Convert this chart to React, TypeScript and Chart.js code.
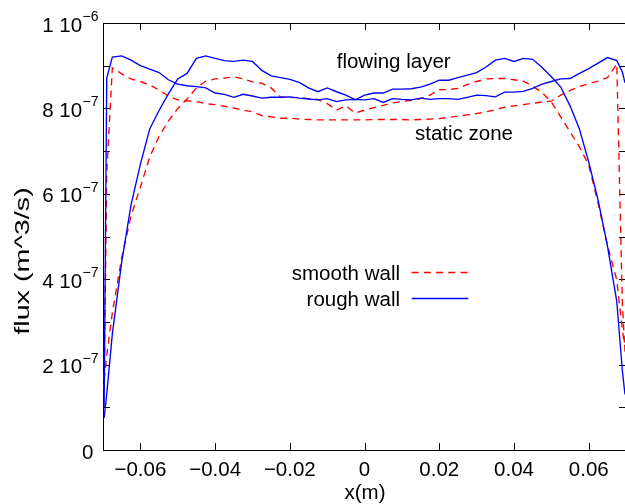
import React, { useEffect, useRef } from 'react';
import { Chart, registerables } from 'chart.js';

Chart.register(...registerables);

// x positions (m)
const xPositions = [
  -0.0697, -0.069, -0.0675, -0.065, -0.0625, -0.06, -0.0575, -0.055, -0.0525, -0.05,
  -0.0475, -0.045, -0.0425, -0.04, -0.0375, -0.035, -0.0325, -0.03, -0.0275, -0.025,
  -0.0225, -0.02, -0.0175, -0.015, -0.0125, -0.01, -0.0075, -0.005, -0.0025, 0,
  0.0025, 0.005, 0.0075, 0.01, 0.0125, 0.015, 0.0175, 0.02, 0.0225, 0.025,
  0.0275, 0.03, 0.0325, 0.035, 0.0375, 0.04, 0.0425, 0.045, 0.0475, 0.05,
  0.0525, 0.055, 0.0575, 0.06, 0.0625, 0.065, 0.0675, 0.069, 0.0697,
];

// rough wall, curve peaked near the walls
const roughWallA = [
  1.0e-7, 8.71e-7, 9.20e-7, 9.23e-7, 9.13e-7, 9.00e-7, 8.92e-7, 8.84e-7, 8.67e-7, 8.57e-7,
  8.53e-7, 8.51e-7, 8.48e-7, 8.36e-7, 8.33e-7, 8.26e-7, 8.33e-7, 8.29e-7, 8.24e-7, 8.26e-7,
  8.26e-7, 8.27e-7, 8.24e-7, 8.22e-7, 8.20e-7, 8.23e-7, 8.16e-7, 8.20e-7, 8.21e-7, 8.20e-7,
  8.23e-7, 8.14e-7, 8.23e-7, 8.21e-7, 8.20e-7, 8.24e-7, 8.21e-7, 8.23e-7, 8.23e-7, 8.21e-7,
  8.26e-7, 8.31e-7, 8.30e-7, 8.27e-7, 8.38e-7, 8.38e-7, 8.40e-7, 8.47e-7, 8.57e-7, 8.63e-7,
  8.69e-7, 8.70e-7, 8.82e-7, 8.93e-7, 9.06e-7, 9.19e-7, 9.12e-7, 8.85e-7, 8.6e-7,
];

// rough wall, curve rising from the walls
const roughWallB = [
  0.75e-7, 1.31e-7, 2.72e-7, 4.40e-7, 5.74e-7, 6.69e-7, 7.52e-7, 7.95e-7, 8.34e-7, 8.69e-7,
  8.82e-7, 9.17e-7, 9.23e-7, 9.17e-7, 9.12e-7, 9.10e-7, 9.13e-7, 9.10e-7, 8.89e-7, 8.76e-7,
  8.72e-7, 8.68e-7, 8.61e-7, 8.48e-7, 8.39e-7, 8.48e-7, 8.39e-7, 8.31e-7, 8.20e-7, 8.31e-7,
  8.36e-7, 8.36e-7, 8.45e-7, 8.45e-7, 8.46e-7, 8.50e-7, 8.57e-7, 8.66e-7, 8.66e-7, 8.72e-7,
  8.78e-7, 8.84e-7, 8.97e-7, 9.13e-7, 9.17e-7, 9.10e-7, 9.17e-7, 9.15e-7, 8.96e-7, 8.74e-7,
  8.50e-7, 8.06e-7, 7.52e-7, 6.74e-7, 5.85e-7, 4.78e-7, 3.48e-7, 1.85e-7, 1.3e-7,
];

// smooth wall, curve peaked near the walls
const smoothWallA = [
  1.4e-7, 6.5e-7, 8.95e-7, 8.81e-7, 8.69e-7, 8.63e-7, 8.55e-7, 8.43e-7, 8.29e-7, 8.20e-7,
  8.18e-7, 8.16e-7, 8.11e-7, 8.09e-7, 8.05e-7, 8.01e-7, 7.96e-7, 7.92e-7, 7.83e-7, 7.80e-7,
  7.77e-7, 7.77e-7, 7.75e-7, 7.74e-7, 7.73e-7, 7.73e-7, 7.73e-7, 7.73e-7, 7.73e-7, 7.73e-7,
  7.74e-7, 7.74e-7, 7.74e-7, 7.74e-7, 7.73e-7, 7.74e-7, 7.75e-7, 7.76e-7, 7.79e-7, 7.82e-7,
  7.85e-7, 7.88e-7, 7.92e-7, 7.97e-7, 8.03e-7, 8.06e-7, 8.09e-7, 8.12e-7, 8.15e-7, 8.17e-7,
  8.31e-7, 8.42e-7, 8.51e-7, 8.58e-7, 8.64e-7, 8.72e-7, 9.04e-7, 3.4e-7, 2.3e-7,
];

// smooth wall, curve rising from the walls
const smoothWallB = [
  1.64e-7, 2.22e-7, 3.21e-7, 4.50e-7, 5.48e-7, 6.16e-7, 6.86e-7, 7.35e-7, 7.70e-7, 8.00e-7,
  8.22e-7, 8.48e-7, 8.64e-7, 8.69e-7, 8.71e-7, 8.74e-7, 8.69e-7, 8.62e-7, 8.59e-7, 8.48e-7,
  8.27e-7, 8.25e-7, 8.26e-7, 8.23e-7, 8.21e-7, 8.11e-7, 7.96e-7, 8.06e-7, 7.89e-7, 7.96e-7,
  8.02e-7, 8.07e-7, 8.13e-7, 8.16e-7, 8.19e-7, 8.23e-7, 8.31e-7, 8.44e-7, 8.44e-7, 8.47e-7,
  8.56e-7, 8.63e-7, 8.69e-7, 8.70e-7, 8.70e-7, 8.67e-7, 8.64e-7, 8.52e-7, 8.37e-7, 8.15e-7,
  7.80e-7, 7.45e-7, 7.10e-7, 6.67e-7, 5.78e-7, 4.80e-7, 3.98e-7, 2.81e-7, 2.39e-7,
];

const xTickValues = [-0.06, -0.04, -0.02, 0, 0.02, 0.04, 0.06];
const xTickLabels = ['\u22120.06', '\u22120.04', '\u22120.02', '0', '0.02', '0.04', '0.06'];
const yTickValues = [0, 2e-7, 4e-7, 6e-7, 8e-7, 1e-6];
const yTickMantissas = ['0', '2 10', '4 10', '6 10', '8 10', '1 10'];
const yTickExponents = ['', '\u22127', '\u22127', '\u22127', '\u22127', '\u22126'];
const yMinorValues = [1e-7, 2e-7, 3e-7, 4e-7, 5e-7, 6e-7, 7e-7, 8e-7, 9e-7];

const legendLabels = ['smooth wall', 'rough wall'];
const xTitle = 'x(m)';
const yTitle = 'flux (m^3/s)';
const noteFlowing = 'flowing layer';
const noteStatic = 'static zone';

const FONT = '"Liberation Sans", Arial, sans-serif';
const RED = 'rgb(255,0,0)';
const BLUE = 'rgb(0,0,255)';
const LINE_W = 1.35;

const toPoints = (ys: number[]) => xPositions.map((x, i) => ({ x, y: ys[i] }));

const framePlugin = {
  id: 'frame',
  beforeDatasetsDraw(chart: any) {
    const { ctx, chartArea: a, scales } = chart;
    const sx = scales.x;
    const sy = scales.y;
    ctx.save();
    ctx.strokeStyle = '#000';
    ctx.lineWidth = 1;
    ctx.beginPath();
    ctx.moveTo(a.left + 0.5, a.top + 0.5);
    ctx.lineTo(a.left + 0.5, a.bottom + 0.5);
    ctx.lineTo(a.right + 2, a.bottom + 0.5);
    ctx.moveTo(a.left + 0.5, a.top + 0.5);
    ctx.lineTo(a.right + 2, a.top + 0.5);
    ctx.stroke();
    ctx.beginPath();
    const all = [0, ...yMinorValues, 1e-6];
    all.forEach((v) => {
      const y = Math.round(sy.getPixelForValue(v)) + 0.5;
      ctx.moveTo(a.left, y);
      ctx.lineTo(a.left + 7, y);
      ctx.moveTo(a.right + 1, y);
      ctx.lineTo(a.right - 6, y);
    });
    xTickValues.forEach((v) => {
      const x = Math.round(sx.getPixelForValue(v)) + 0.5;
      ctx.moveTo(x, a.bottom);
      ctx.lineTo(x, a.bottom - 7);
      ctx.moveTo(x, a.top);
      ctx.lineTo(x, a.top + 7);
    });
    ctx.stroke();
    ctx.restore();
  },
  afterDraw(chart: any) {
    const { ctx, scales } = chart;
    const sx = scales.x;
    const sy = scales.y;
    ctx.save();
    ctx.fillStyle = '#000';
    ctx.textBaseline = 'alphabetic';
    // x tick labels
    ctx.font = `20.5px ${FONT}`;
    ctx.textAlign = 'center';
    xTickValues.forEach((v, i) => {
      ctx.fillText(xTickLabels[i], sx.getPixelForValue(v), 475.5);
    });
    ctx.fillText(xTitle, 365, 499);
    // y tick labels
    yTickValues.forEach((v, i) => {
      const y = sy.getPixelForValue(v);
      const base = y + 8.5;
      if (!yTickExponents[i]) {
        ctx.font = `20.5px ${FONT}`;
        ctx.textAlign = 'right';
        ctx.fillText(yTickMantissas[i], 93.5, base);
      } else {
        ctx.font = `14px ${FONT}`;
        ctx.textAlign = 'right';
        const w = ctx.measureText(yTickExponents[i]).width;
        ctx.fillText(yTickExponents[i], 98.5, base - 10.5);
        ctx.font = `20.5px ${FONT}`;
        ctx.fillText(yTickMantissas[i], 98.5 - w - 0.5, base);
      }
    });
    // y title
    ctx.save();
    ctx.translate(29, 261);
    ctx.rotate(-Math.PI / 2);
    ctx.scale(1.4, 1);
    ctx.font = `20.5px ${FONT}`;
    ctx.textAlign = 'center';
    ctx.fillText(yTitle, 0, 0);
    ctx.restore();
    // notes
    ctx.font = `20.5px ${FONT}`;
    ctx.textAlign = 'left';
    ctx.fillText(noteFlowing, 336.7, 68.3);
    ctx.fillText(noteStatic, 415, 140);
    // legend
    ctx.textAlign = 'right';
    ctx.fillText(legendLabels[0], 400, 280);
    ctx.fillText(legendLabels[1], 400, 305.8);
    ctx.lineWidth = LINE_W;
    ctx.strokeStyle = RED;
    ctx.setLineDash([7, 5.2]);
    ctx.beginPath();
    ctx.moveTo(411.7, 272.5);
    ctx.lineTo(468.3, 272.5);
    ctx.stroke();
    ctx.setLineDash([]);
    ctx.strokeStyle = BLUE;
    ctx.beginPath();
    ctx.moveTo(411.7, 298.5);
    ctx.lineTo(468.3, 298.5);
    ctx.stroke();
    ctx.restore();
  },
};

export default function App() {
  const ref = useRef<HTMLCanvasElement>(null);
  useEffect(() => {
    if (!ref.current) return;
    const common = { pointRadius: 0, borderWidth: LINE_W, tension: 0, fill: false };
    const chart = new Chart(ref.current, {
      type: 'line',
      data: {
        datasets: [
          { ...common, label: 'rough wall', data: toPoints(roughWallA), borderColor: BLUE, order: 0 },
          { ...common, label: 'rough wall', data: toPoints(roughWallB), borderColor: BLUE, order: 0 },
          { ...common, label: 'smooth wall', data: toPoints(smoothWallA), borderColor: RED, borderDash: [7, 5.2], order: 1 },
          { ...common, label: 'smooth wall', data: toPoints(smoothWallB), borderColor: RED, borderDash: [7, 5.2], order: 1 },
        ],
      },
      options: {
        responsive: false,
        animation: false,
        devicePixelRatio: 1,
        layout: { padding: { left: 103, top: 23, right: 0, bottom: 54 } },
        plugins: { legend: { display: false }, tooltip: { enabled: false } },
        scales: {
          x: { type: 'linear', min: -0.07, max: 0.0697, display: false },
          y: { type: 'linear', min: 0, max: 1e-6, display: false },
        },
      },
      plugins: [framePlugin],
    } as any);
    return () => chart.destroy();
  }, []);
  return (
    <div style={{ position: 'absolute', left: 0, top: 0, width: 625, height: 504, background: '#fff' }}>
      <canvas ref={ref} width={625} height={504} />
    </div>
  );
}
